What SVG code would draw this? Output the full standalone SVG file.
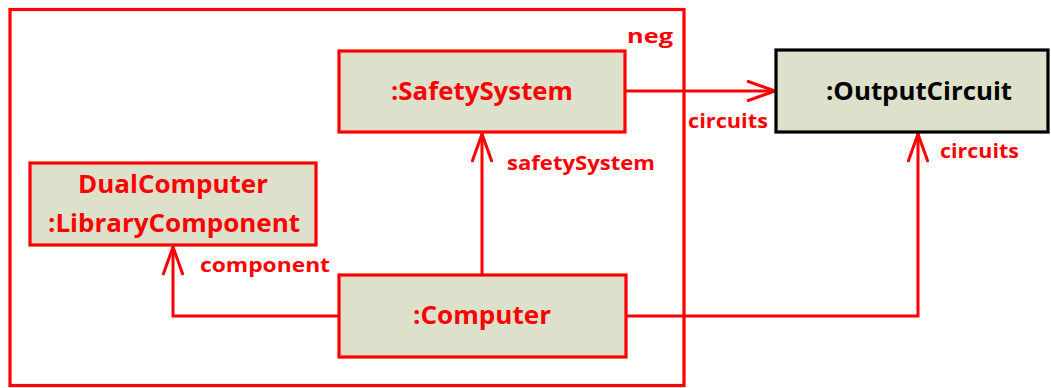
<svg xmlns="http://www.w3.org/2000/svg" width="1051" height="388" viewBox="0 0 1051 388">
  <style>
    .node { fill: #dde0cb; stroke: #ff0000; stroke-width: 3.2; }
    .node.ext { stroke: #000000; }
    .frame { fill: none; stroke: #ff0000; stroke-width: 3.2; }
    .conn { fill: none; stroke: #ff0000; stroke-width: 3; }
    .name { font-family: "Open Sans", "Liberation Sans", Arial, sans-serif; font-weight: bold; font-size: 25px; fill: #ff0000; text-anchor: middle; }
    .name.ext { fill: #000000; }
    .lbl { font-family: "Open Sans", "Liberation Sans", Arial, sans-serif; font-weight: bold; font-size: 19.5px; fill: #ff0000; }
  </style>
  <defs>
    <marker id="open" viewBox="0 0 30 22" refX="29" refY="11" markerWidth="30" markerHeight="22" markerUnits="userSpaceOnUse" orient="auto">
      <path d="M1,1 L29,11 L1,21" fill="none" stroke="#ff0000" stroke-width="3"/>
    </marker>
  </defs>

  <rect width="1051" height="388" fill="#ffffff"/>

  <!-- combined fragment: neg -->
  <g id="frame-neg">
    <rect class="frame" x="10" y="9.5" width="674" height="376"/>
    <text class="lbl" x="627" y="43" font-size="23" textLength="46" lengthAdjust="spacingAndGlyphs">neg</text>
  </g>

  <!-- connectors -->
  <g id="connectors">
    <path class="conn" d="M626,91 L775,91" marker-end="url(#open)"/>
    <path class="conn" d="M482,275 L482,134" marker-end="url(#open)"/>
    <path class="conn" d="M339,316 L173,316 L173,247" marker-end="url(#open)"/>
    <path class="conn" d="M626,316 L918,316 L918,134" marker-end="url(#open)"/>
    <text class="lbl" x="688" y="128" textLength="80" lengthAdjust="spacingAndGlyphs">circuits</text>
    <text class="lbl" x="940" y="158" textLength="79" lengthAdjust="spacingAndGlyphs">circuits</text>
    <text class="lbl" x="507" y="170" textLength="148" lengthAdjust="spacingAndGlyphs">safetySystem</text>
    <text class="lbl" x="200" y="272" textLength="130" lengthAdjust="spacingAndGlyphs">component</text>
  </g>

  <g id="node-safetysystem">
    <rect class="node" x="339" y="51" width="286" height="81"/>
    <text class="name" x="482" y="100" textLength="182" lengthAdjust="spacingAndGlyphs">:SafetySystem</text>
  </g>

  <g id="node-outputcircuit">
    <rect class="node ext" x="776" y="50" width="272" height="82"/>
    <text class="name ext" x="919" y="100" textLength="186" lengthAdjust="spacingAndGlyphs">:OutputCircuit</text>
  </g>

  <g id="node-dualcomputer">
    <rect class="node" x="30" y="163" width="286" height="82"/>
    <text class="name" x="173" y="193" textLength="190" lengthAdjust="spacingAndGlyphs">DualComputer</text>
    <text class="name" x="174" y="232" textLength="252" lengthAdjust="spacingAndGlyphs">:LibraryComponent</text>
  </g>

  <g id="node-computer">
    <rect class="node" x="339" y="275" width="287" height="82"/>
    <text class="name" x="482" y="324" textLength="138" lengthAdjust="spacingAndGlyphs">:Computer</text>
  </g>
</svg>
